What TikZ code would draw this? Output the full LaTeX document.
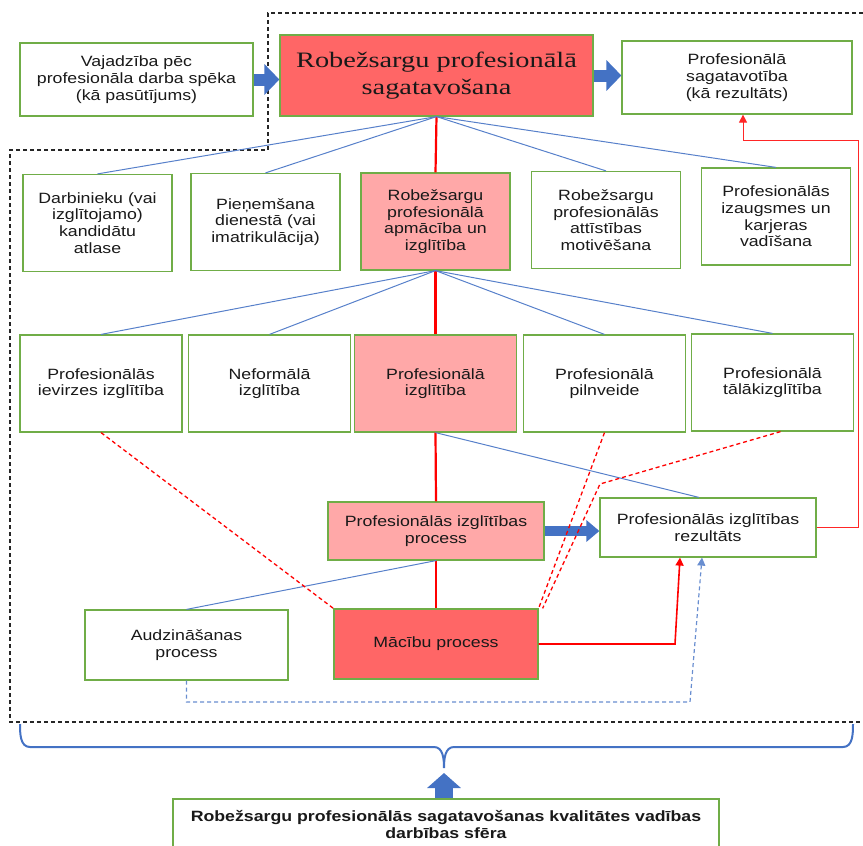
\documentclass[tikz,border=0pt]{standalone}
\usepackage{fontspec}
\setmainfont{Liberation Sans}[FakeStretch=1.19]
\newfontfamily\titlefont{Liberation Serif}[FakeStretch=1.29]
\usepackage{tikz}
\usetikzlibrary{arrows.meta}
\definecolor{boxgreen}{HTML}{70AD47}
\definecolor{linkblue}{HTML}{4472C4}
\definecolor{deepred}{HTML}{FF6666}
\definecolor{softred}{HTML}{FFA8A8}
\tikzset{box/.style={draw=boxgreen, line width=1.2pt, fill=white, align=center, inner sep=0pt,
      text=black!90, font=\fontsize{14.9}{16.7}\selectfont},
  wbox/.style={box, minimum width=149pt, minimum height=97pt},
  ebox/.style={box, minimum width=162pt, minimum height=97pt},
  link/.style={linkblue!90, line width=1pt},
  spine/.style={red, line width=2.2pt},
  hint/.style={red, line width=1.3pt, dash pattern=on 4pt off 3pt},
  back/.style={linkblue!80, line width=1.2pt, dash pattern=on 4pt off 3pt, -{Triangle[length=8pt,width=8pt]}},
  frame/.style={black!85, line width=1.2pt, dash pattern=on 4pt off 3pt},
  fat/.style={linkblue, line width=#1, -{Triangle[length=15pt,width=30pt]}},
  fat/.default=12pt}

\begin{document}
\begin{tikzpicture}[x=1pt, y=-1pt]
    \useasboundingbox (0,0) rectangle (863,846);
    \path (600,484) coordinate(bend);
    \path (675,644) coordinate(kink);
    \path (858,140) coordinate(corner);
    \path (186.5,702) coordinate(low);
    \path (690,702) coordinate(lowright);
    \path (444,768) coordinate(tip);
    \path (444,773) coordinate(head);
    \draw[frame] (863,13) -- (268,13) -- (268,150) -- (10,150) -- (10,722) -- (863,722);
    \node[box, minimum width=233pt, minimum height=73pt] (need) at (136.5,79.5) {Vajadzība pēc\\profesionāla darba spēka\\(kā pasūtījums)};
    \node[box, fill=deepred, minimum width=313pt, minimum height=81pt, font=\titlefont\fontsize{22}{26.7}\selectfont] (prep) at (436.5,75.5) {Robežsargu profesionālā\\sagatavošana};
    \node[box, minimum width=230pt, minimum height=73pt] (ready) at (737,77.5) {Profesionālā\\sagatavotība\\(kā rezultāts)};
    \node[wbox] (select) at (97.5,223) {Darbinieku (vai\\izglītojamo)\\kandidātu\\atlase};
    \node[wbox] (admit) at (265.5,222) {Pieņemšana\\dienestā (vai\\imatrikulācija)};
    \node[wbox, fill=softred] (train) at (435.5,221.5) {Robežsargu\\profesionālā\\apmācība un\\izglītība};
    \node[wbox] (motive) at (606,220) {Robežsargu\\profesionālās\\attīstības\\motivēšana};
    \node[wbox] (career) at (776,216.5) {Profesionālās\\izaugsmes un\\karjeras\\vadīšana};
    \node[ebox] (intro) at (101,383.5) {Profesionālās\\ievirzes izglītība};
    \node[ebox] (informal) at (269.5,383.5) {Neformālā\\izglītība};
    \node[ebox, fill=softred] (voc) at (435.5,383.5) {Profesionālā\\izglītība};
    \node[ebox] (upgrade) at (604.5,383.5) {Profesionālā\\pilnveide};
    \node[ebox] (further) at (772.5,382.5) {Profesionālā\\tālākizglītība};
    \node[box, fill=softred, minimum width=216pt, minimum height=58pt] (process) at (436,531) {Profesionālās izglītības\\process};
    \node[box, minimum width=216pt, minimum height=59pt] (outcome) at (708,527.5) {Profesionālās izglītības\\rezultāts};
    \node[box, minimum width=203pt, minimum height=70pt] (upbring) at (186.5,645) {Audzināšanas\\process};
    \node[box, fill=deepred, minimum width=204pt, minimum height=70pt] (learn) at (436,644) {Mācību process};
    \node[box, minimum width=546pt, minimum height=51pt, font=\bfseries\fontsize{14.9}{16.7}\selectfont] (sphere) at (446,824.5) {Robežsargu profesionālās sagatavošanas kvalitātes vadības\\darbības sfēra};
    \draw[fat] (need.east) -- (need.east -| prep.west);
    \draw[fat] (prep.east) -- (prep.east -| ready.west);
    \draw[fat=10pt, -{Triangle[length=13pt,width=21pt]}] (process.east) -- (process.east -| outcome.west);
    \draw[spine] (prep.south) -- (train.north);
    \draw[spine] (train.south) -- (voc.north);
    \draw[spine] (voc.south) -- (process.north);
    \draw[spine] (process.south) -- (learn.north);
    \foreach \t in {select,admit,motive,career}
      \draw[link] (prep.south) -- (\t.north);
    \foreach \t in {intro,informal,upgrade,further}
      \draw[link] (train.south) -- (\t.north);
    \draw[link] (voc.south) -- ([xshift=-9pt]outcome.north);
    \draw[link] (process.south) -- (upbring.north);
    \draw[hint] (intro.south) -- (learn.north west);
    \draw[hint] (upgrade.south) -- (learn.north east);
    \draw[hint] ([xshift=8pt]further.south) -- (bend) -- ([xshift=4pt]learn.north east);
    \draw[red, line width=1.6pt, -{Triangle[length=8pt,width=8pt]}] (learn.east) -- (kink) -- ([xshift=-28pt]outcome.south);
    \draw[red!85, line width=1pt, -{Triangle[length=8pt,width=8pt]}] (outcome.east) -- (outcome.east -| corner) -- (corner) -- ([xshift=6pt]ready.south |- corner) -- ([xshift=6pt]ready.south);
    \draw[back] (upbring.south) -- (low) -- (lowright) -- ([xshift=-6pt]outcome.south);
    \draw[linkblue, line width=2pt] (20,724) to[out=-90,in=180] (30,747) -- (434,747) to[out=0,in=90] (tip)
      to[out=90,in=180] (454,747) -- (843,747) to[out=0,in=-90] (853,724);
    \draw[fat=18pt, -{Triangle[length=15pt,width=33pt]}] (head |- sphere.north) -- (head);
\end{tikzpicture}
\end{document}
